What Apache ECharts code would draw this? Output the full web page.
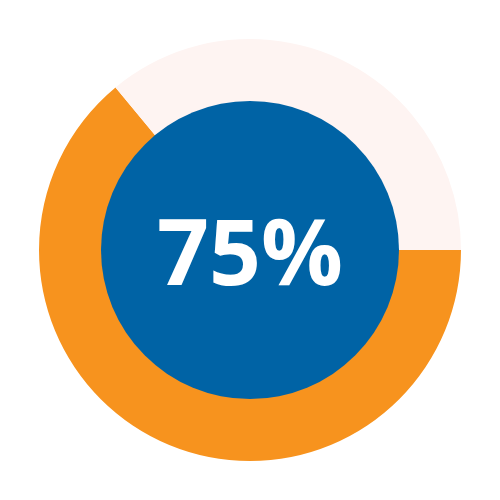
<!DOCTYPE html>
<html>
<head>
  <meta charset="UTF-8">
  <script src="https://cdn.jsdelivr.net/npm/echarts@6/dist/echarts.min.js"></script>
  <style>
    html, body { margin: 0; padding: 0; background: #fff; }
    #chart { width: 500px; height: 500px; }
  </style>
</head>
<body>
<div id="chart"></div>
<script type="text/javascript">
  var ringNames = ['done', 'rest'];
  var ringValues = [64, 36];
  var ringColors = ['#F7931E', '#FEF4F2'];
  var centerText = '75%';

  var myChart = echarts.init(document.getElementById('chart'));
  var option = {
    animation: false,
    graphic: [{
      type: 'text',
      x: 250,
      y: 259,
      z: 100,
      silent: true,
      style: {
        text: centerText,
        fill: '#fff',
        font: 'bold 91px "Open Sans"',
        textAlign: 'center',
        textVerticalAlign: 'middle'
      }
    }],
    series: [
      {
        type: 'pie',
        center: ['50%', '50%'],
        radius: [148, 211],
        startAngle: 0,
        clockwise: true,
        silent: true,
        label: {show: false},
        labelLine: {show: false},
        data: ringNames.map(function (n, i) {
          return {name: n, value: ringValues[i], itemStyle: {color: ringColors[i]}};
        })
      },
      {
        type: 'pie',
        center: ['50%', '50%'],
        radius: [0, 149],
        silent: true,
        label: {show: false},
        labelLine: {show: false},
        data: [{name: 'center', value: 1, itemStyle: {color: '#0063A5'}}]
      }
    ]
  };
  myChart.setOption(option);
</script>
</body>
</html>
